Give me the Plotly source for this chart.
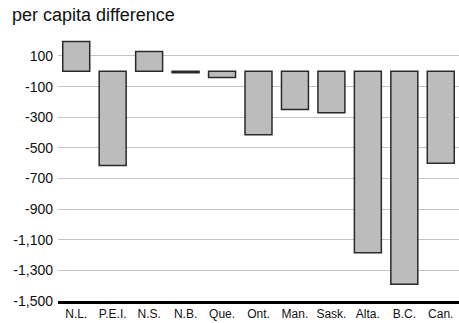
import plotly.graph_objects as go

provinces = ["N.L.", "P.E.I.", "N.S.", "N.B.", "Que.", "Ont.", "Man.", "Sask.", "Alta.", "B.C.", "Can."]
per_capita_diff = [195, -615, 130, -10, -40, -415, -250, -270, -1185, -1390, -600]
tick_values = [100, -100, -300, -500, -700, -900, -1100, -1300, -1500]
tick_labels = ["100", "-100", "-300", "-500", "-700", "-900", "-1,100", "-1,300", "-1,500"]

fig = go.Figure(go.Bar(
    x=provinces, y=per_capita_diff,
    marker=dict(color="#bcbcbc", line=dict(color="#2a2a2a", width=1.5)),
))

fig.update_layout(
    width=459, height=323,
    margin=dict(l=58, r=0, t=33, b=22),
    paper_bgcolor="white", plot_bgcolor="white",
    font=dict(family="Liberation Sans, Arial, sans-serif", color="#111"),
    bargap=0.26, showlegend=False,
    annotations=[dict(text="per capita difference", xref="paper", yref="paper",
                      x=-48/401, y=1.0, xanchor="left", yanchor="middle", yshift=18,
                      showarrow=False, font=dict(size=18, color="#111"))],
)
fig.update_xaxes(showgrid=False, showline=True, linecolor="black", linewidth=3,
                 ticks="", tickfont=dict(size=12), ticklen=0)
fig.update_yaxes(range=[-1500, 250], tickvals=tick_values, ticktext=tick_labels,
                 showgrid=True, gridcolor="#c4c4c4", gridwidth=1.2, zeroline=False,
                 showline=False, tickfont=dict(size=14), ticks="", ticklabelstandoff=4)

fig.write_html("out.html", config={"displayModeBar": False},
               post_script="document.body.style.margin='0';")
